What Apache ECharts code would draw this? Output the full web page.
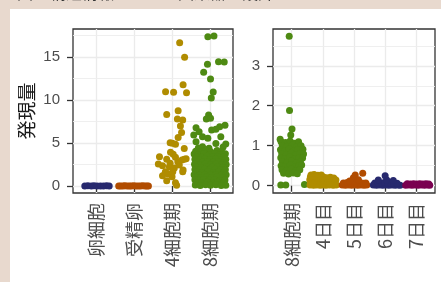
<!DOCTYPE html>
<html><head><meta charset="utf-8">
<script src="https://cdn.jsdelivr.net/npm/echarts@6/dist/echarts.min.js"></script>
<style>html,body{margin:0;padding:0;background:#e8d9ce}#c{width:441px;height:282px}</style>
</head><body><div id="c"></div>
<script>
// Categories
const catsLeft = ['卵細胞', '受精卵', '4細胞期', '8細胞期'];
const catsRight = ['8細胞期', '4日目', '5日目', '6日目', '7日目'];
const ticksLeft = [0, 5, 10, 15];
const ticksRight = [0, 1, 2, 3];
const minorLeft = [2.5, 7.5, 12.5, 17.5];
const minorRight = [0.5, 1.5, 2.5, 3.5];

// Left panel points [jittered category position, value]
const oocyte = [[0.71,0],[0.79,0.02],[0.88,0],[0.95,0.03],[1.03,0],[1.12,0.01],[1.2,0],[1.28,0.02],[1.35,0]];
const zygote = [[1.6,0],[1.65,0.01],[1.71,0],[1.76,0.02],[1.82,0],[1.88,0.01],[1.93,0],[1.99,0.02],[2.05,0],[2.11,0.01],[2.17,0],[2.23,0.02],[2.29,0],[2.34,0.01],[2.38,0]];
const cell4 = [[3.2,16.66],[3.33,14.98],[2.83,10.97],[3.04,10.91],[3.29,11.77],[3.38,10.84],[2.86,8.31],[3.16,8.74],[3.14,7.79],[3.28,7.67],[3.22,6.98],[3.25,6.22],[3.16,5.64],[3.01,4.97],[3.09,4.85],[3.32,4.36],[2.96,3.92],[3.03,3.69],[2.67,3.41],[2.86,3.1],[3.09,3.34],[3.26,3.02],[3.37,3.17],[2.64,2.56],[2.75,2.36],[2.95,2.64],[3.15,2.83],[3.29,1.86],[2.82,1.55],[2.75,1.2],[2.9,1.4],[3.0,1.08],[2.86,0.62],[3.09,0.38],[3.12,0.08],[3.02,1.66],[2.93,2.24],[3.06,2.09],[3.19,2.44],[2.83,1.66],[3.28,1.66],[3.32,3.1],[2.95,5.04]];
const cell8Left = [[3.94,17.36],[4.1,17.44],[4.22,14.45],[4.37,14.42],[3.93,14.15],[3.83,13.22],[4.01,12.44],[4.08,10.93],[4.03,10.23],[3.96,8.26],[3.9,7.79],[4.01,7.87],[4.39,7.06],[4.25,6.9],[3.63,6.78],[3.71,6.31],[4.04,6.51],[4.15,6.59],[3.57,5.93],[3.8,5.73],[3.94,5.55],[4.28,5.73],[3.63,5.15],[4.15,4.96],[4.41,4.88],[3.8,4.57],[3.97,4.38],[3.69,4.42],[4.34,4.53],
 [3.62,4.05],[3.75,3.98],[3.88,4.1],[4.02,3.95],[4.18,4.12],[4.3,4.0],
 [3.58,3.72],[3.7,3.66],[3.84,3.75],[3.97,3.62],[4.12,3.78],[4.26,3.68],[4.4,3.74],
 [3.64,3.41],[3.79,3.36],[3.92,3.45],[4.06,3.38],[4.21,3.44],[4.35,3.35],
 [3.6,3.12],[3.72,3.06],[3.86,3.15],[4.0,3.08],[4.14,3.14],[4.28,3.04],[4.41,3.1],
 [3.66,2.82],[3.8,2.76],[3.93,2.85],[4.08,2.78],[4.22,2.84],[4.36,2.75],
 [3.59,2.52],[3.73,2.46],[3.87,2.55],[4.01,2.48],[4.16,2.54],[4.3,2.45],[4.42,2.5],
 [3.63,2.22],[3.77,2.16],[3.91,2.25],[4.05,2.18],[4.19,2.24],[4.33,2.15],
 [3.6,1.92],[3.71,1.86],[3.85,1.95],[3.99,1.88],[4.13,1.94],[4.27,1.85],[4.4,1.9],
 [3.65,1.62],[3.79,1.56],[3.94,1.65],[4.08,1.58],[4.22,1.64],[4.36,1.55],
 [3.58,1.32],[3.72,1.26],[3.86,1.35],[4.02,1.28],[4.15,1.34],[4.29,1.25],[4.42,1.3],
 [3.62,1.02],[3.76,0.96],[3.9,1.05],[4.04,0.98],[4.18,1.04],[4.32,0.95],
 [3.6,0.72],[3.7,0.66],[3.83,0.75],[3.97,0.68],[4.11,0.74],[4.25,0.65],[4.39,0.7],
 [3.64,0.42],[3.78,0.36],[3.92,0.45],[4.06,0.38],[4.2,0.44],[4.34,0.35],
 [3.61,0.12],[3.74,0.06],[3.88,0.15],[4.01,0.08],[4.15,0.14],[4.29,0.05],[4.41,0.1]];

// Right panel points
const cell8Right = [[0.92,3.74],[0.93,1.88],[1.01,1.42],[0.97,1.27],[0.63,1.16],[0.65,0.02],[0.81,0.02],[1.41,0.03],
 [0.66,1.1],[0.8,1.08],[0.95,1.12],[1.1,1.06],[1.22,1.1],
 [0.7,1.0],[0.85,0.98],[1.02,1.02],[1.16,0.97],[1.3,1.0],
 [0.64,0.9],[0.78,0.88],[0.92,0.92],[1.06,0.86],[1.2,0.9],[1.36,0.91],
 [0.68,0.8],[0.83,0.78],[0.98,0.82],[1.12,0.77],[1.27,0.8],[1.38,0.79],
 [0.65,0.7],[0.79,0.68],[0.94,0.72],[1.08,0.67],[1.24,0.7],[1.35,0.69],
 [0.7,0.6],[0.86,0.58],[1.0,0.62],[1.14,0.57],[1.28,0.6],
 [0.66,0.5],[0.8,0.48],[0.95,0.52],[1.1,0.47],[1.22,0.5],[1.32,0.52],
 [0.69,0.4],[0.84,0.38],[0.99,0.42],[1.13,0.37],[1.26,0.4],
 [0.74,0.31],[0.9,0.29],[1.05,0.32],[1.18,0.3]];
const day4 = [[1.62,0.27],[1.72,0.28],[1.84,0.26],[1.95,0.27],
 [1.6,0.22],[1.68,0.21],[1.78,0.22],[1.9,0.2],[2.02,0.22],[2.12,0.2],[2.24,0.21],[2.35,0.19],
 [1.58,0.15],[1.66,0.14],[1.76,0.15],[1.86,0.13],[1.98,0.15],[2.08,0.14],[2.18,0.15],[2.3,0.13],[2.42,0.14],
 [1.61,0.08],[1.72,0.07],[1.82,0.08],[1.93,0.06],[2.04,0.08],[2.14,0.07],[2.26,0.08],[2.38,0.07],
 [1.59,0.02],[1.7,0.01],[1.8,0.02],[1.91,0.01],[2.0,0.02],[2.1,0.01],[2.21,0.02],[2.33,0.01],[2.43,0.02]];
const day5 = [[2.62,0.02],[2.72,0.01],[2.82,0.02],[2.92,0.01],[3.02,0.02],[3.12,0.01],[3.22,0.02],[3.32,0.01],[3.41,0.02],
 [2.66,0.07],[2.78,0.08],[2.9,0.06],[3.0,0.08],[3.1,0.07],[3.2,0.08],[3.3,0.06],[3.38,0.07],
 [2.98,0.2],[3.04,0.27],[3.28,0.31],[3.14,0.15],[2.86,0.12]];
const day6 = [[3.62,0.02],[3.72,0.01],[3.82,0.02],[3.92,0.01],[4.02,0.02],[4.12,0.01],[4.22,0.02],[4.32,0.01],[4.42,0.02],[4.48,0.01],
 [3.67,0.07],[3.78,0.06],[3.88,0.07],[3.98,0.08],[4.08,0.07],[4.18,0.06],[4.28,0.07],[4.38,0.06],
 [3.78,0.14],[4.05,0.14],[4.26,0.13],[4.0,0.25]];
const day7 = [[4.66,0.01],[4.76,0.02],[4.86,0.01],[4.96,0.02],[5.06,0.01],[5.16,0.02],[5.26,0.01],[5.36,0.02],[5.43,0.01],
 [4.71,0.05],[4.81,0.04],[4.91,0.05],[5.01,0.04],[5.11,0.05],[5.21,0.04],[5.31,0.05],[5.4,0.04]];

const C = {navy:'#27296e', orange:'#b14c00', gold:'#b08c00', green:'#4e8a13', magenta:'#7a0150'};

const chart = echarts.init(document.getElementById('c'), null, {renderer:'canvas'});
const tickFont = {fontFamily:'Liberation Sans, Arial, sans-serif', fontSize:15, color:'#4d4d4d'};
const catFont = {fontFamily:'"Noto Sans CJK JP", sans-serif', fontSize:18, color:'#4d4d4d'};
const tickLine = {show:true, length:6, lineStyle:{color:'#333', width:1.3}};
function xAxis(idx, cats, max){
  return {type:'value', gridIndex:idx, min:0.4, max:max,
    axisLine:{show:false},
    axisTick:Object.assign({customValues:cats.map((c,i)=>i+1)}, tickLine),
    axisLabel:Object.assign({customValues:cats.map((c,i)=>i+1), rotate:90, margin:10,
      formatter:v=>cats[Math.round(v)-1]}, catFont),
    splitLine:{show:true, lineStyle:{color:'#ebebeb', width:1.3}}};
}
function yAxis(idx, ticks, min, max, extra){
  return Object.assign({type:'value', gridIndex:idx, min:min, max:max,
    axisLine:{show:false},
    axisTick:Object.assign({customValues:ticks}, tickLine),
    axisLabel:Object.assign({customValues:ticks, margin:13}, tickFont),
    splitLine:{show:true, lineStyle:{color:'#ebebeb', width:1.3}}}, extra||{});
}
function pts(name, data, color, xi){
  return {type:'scatter', name:name, xAxisIndex:xi, yAxisIndex:xi, data:data, symbolSize:7,
    itemStyle:{color:color, opacity:1}, z:3, animation:false, silent:true};
}
function minor(xi, vals){
  return {type:'scatter', xAxisIndex:xi, yAxisIndex:xi, data:[], z:1, silent:true, animation:false,
    markLine:{silent:true, z:1, symbol:'none', label:{show:false}, animation:false,
      lineStyle:{color:'#ededed', width:0.9, type:'solid'},
      data:vals.map(v=>({yAxis:v}))}};
}
chart.setOption({
  backgroundColor:'#e8d9ce',
  animation:false,
  graphic:[
    {type:'text', left:17, top:-15, style:{text:'図1: 構造情報に基づく因果器の設計', font:'16px "Noto Sans CJK JP"', fill:'#333'}},
    {type:'rect', left:10, top:9, shape:{width:440, height:280}, style:{fill:'#ffffff'}, z:-1}
  ],
  grid:[
    {left:73, top:29, width:160, height:164, show:true, borderColor:'#333', borderWidth:1.3, backgroundColor:'transparent'},
    {left:273, top:29, width:162, height:164, show:true, borderColor:'#333', borderWidth:1.3, backgroundColor:'transparent'}
  ],
  xAxis:[xAxis(0, catsLeft, 4.6), xAxis(1, catsRight, 5.6)],
  yAxis:[
    yAxis(0, ticksLeft, -0.81, 18.26, {name:'発現量', nameLocation:'middle', nameRotate:90, nameGap:37,
      nameTextStyle:{fontFamily:'"Noto Sans CJK JP", sans-serif', fontSize:19, color:'#1a1a1a'}}),
    yAxis(1, ticksRight, -0.183, 3.92)
  ],
  series:[
    minor(0, minorLeft), minor(1, minorRight),
    pts('卵細胞', oocyte, C.navy, 0),
    pts('受精卵', zygote, C.orange, 0),
    pts('4細胞期', cell4, C.gold, 0),
    pts('8細胞期', cell8Left, C.green, 0),
    pts('8細胞期', cell8Right, C.green, 1),
    pts('4日目', day4, C.gold, 1),
    pts('5日目', day5, C.orange, 1),
    pts('6日目', day6, C.navy, 1),
    pts('7日目', day7, C.magenta, 1)
  ]
});
</script></body></html>
